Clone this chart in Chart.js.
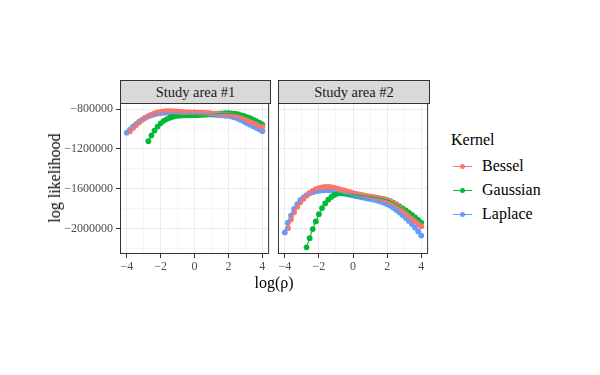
<!DOCTYPE html>
<html>
<head>
<meta charset="utf-8">
<script src="https://cdn.jsdelivr.net/npm/chart.js@4.4.0/dist/chart.umd.min.js"></script>
<style>
  body { margin: 0; width: 600px; height: 375px; background: #fff; position: relative; overflow: hidden; font-family: "Liberation Serif", serif; }
  .panel { position: absolute; top: 90px; height: 186px; }
  .strip { position: absolute; top: 80px; height: 24px; box-sizing: border-box; border: 1px solid #333; background: #d9d9d9; color: #1a1a1a; font-size: 14.5px; line-height: 22px; text-align: center; }
  .ytitle { position: absolute; left: 55px; top: 178px; transform: translate(-50%, -50%) rotate(-90deg); font-size: 16px; white-space: nowrap; color: #000; }
  .xtitle { position: absolute; left: 274px; top: 283px; transform: translate(-50%, -50%); font-size: 16px; color: #000; }
  .legend { position: absolute; left: 451px; top: 130px; color: #000; font-size: 16px; }
  .legend .item { position: absolute; left: 0; width: 120px; height: 20px; }
  .legend .line { position: absolute; left: 2px; top: 9.5px; width: 19px; height: 1.2px; }
  .legend .dot { position: absolute; left: 8.5px; top: 7.5px; width: 5px; height: 5px; border-radius: 50%; }
  .legend .lab { position: absolute; left: 31px; top: 0; line-height: 20px; }
</style>
</head>
<body>
<div class="strip" style="left:120px; width:151px;">Study area #1</div>
<div class="strip" style="left:278px; width:152px;">Study area #2</div>
<div class="panel" style="left:0px; width:272px;"><canvas id="area1" width="272" height="186"></canvas></div>
<div class="panel" style="left:270px; width:161px;"><canvas id="area2" width="161" height="186"></canvas></div>
<div class="ytitle">log likelihood</div>
<div class="xtitle">log(ρ)</div>
<div class="legend" id="legend"><div style="position:absolute; left:0; top:0; line-height:20px; white-space:nowrap;">Kernel</div></div>
<script>
const xs = [-4, -3.818, -3.636, -3.455, -3.273, -3.091, -2.909, -2.727, -2.545, -2.364, -2.182, -2, -1.818, -1.636, -1.455,
  -1.273, -1.091, -0.909, -0.727, -0.545, -0.364, -0.182, 0, 0.182, 0.364, 0.545, 0.727, 0.909, 1.091, 1.273,
  1.455, 1.636, 1.818, 2, 2.182, 2.364, 2.545, 2.727, 2.909, 3.091, 3.273, 3.455, 3.636, 3.818, 4];

const xMajor = [-4, -2, 0, 2, 4];
const xMinor = [-3, -1, 1, 3];
const yMajor = [-800000, -1200000, -1600000, -2000000];
const yMinor = [-1000000, -1400000, -1800000, -2200000];

const kernels = ['Bessel', 'Gaussian', 'Laplace'];
const colors = ['#F8766D', '#00BA38', '#619CFF'];

// Study area #1
const bessel1 = [null, -1021000, -990000, -960000, -933000, -908000, -887000, -870000, -855000, -843000, -834000,
  -827000, -823000, -821000, -820000, -821000, -823000, -825000, -828000, -831000, -832000,
  -833000, -834000, -835000, -836000, -837000, -839000, -842000, -845000, -848000, -850000,
  -853000, -855000, -858000, -862000, -868000, -876000, -886000, -898000, -913000, -926000,
  -940000, -953000, -965000, -977000];
const gaussian1 = [null, null, null, null, null, null, null,
  -1122000, -1065000, -1015000, -975000, -943000, -918000, -900000, -887000, -877000, -870000,
  -866000, -864000, -863000, -862000, -861000, -861000, -860000, -859000, -857000, -855000,
  -852000, -850000, -847000, -845000, -843000, -842000, -842000, -843000, -846000, -852000,
  -860000, -869000, -880000, -892000, -905000, -920000, -936000, -953000];
const laplace1 = [-1037000, -1005000, -976000, -950000, -926000, -905000, -888000, -873000, -861000, -852000,
  -845000, -840000, -837000, -835000, -834000, -834000, -835000, -837000, -839000, -841000,
  -842000, -843000, -844000, -845000, -846000, -848000, -850000, -853000, -856000, -859000,
  -861000, -863000, -866000, -868000, -875000, -884000, -895000, -909000, -925000, -941000,
  -956000, -971000, -987000, -1003000, -1021000];

// Study area #2
const bessel2 = [null, -1994000, -1905000, -1835000, -1780000, -1735000, -1700000, -1668000, -1641000, -1620000, -1604000,
  -1593000, -1585000, -1581000, -1580000, -1583000, -1590000, -1598000, -1607000, -1616000, -1625000,
  -1634000, -1644000, -1650000, -1656000, -1662000, -1668000, -1675000, -1681000, -1687000, -1693000,
  -1699000, -1706000, -1715000, -1727000, -1742000, -1760000, -1786000, -1813000, -1842000, -1870000,
  -1898000, -1925000, -1950000, -1975000];
const gaussian2 = [null, null, null, null, null, null, null,
  -2186000, -2095000, -2003000, -1926000, -1854000, -1793000, -1746000, -1708000, -1681000, -1661000,
  -1647000, -1645000, -1646000, -1649000, -1653000, -1656000, -1660000, -1664000, -1668000, -1672000,
  -1677000, -1681000, -1686000, -1691000, -1697000, -1704000, -1712000, -1723000, -1738000, -1756000,
  -1775000, -1795000, -1815000, -1838000, -1862000, -1887000, -1912000, -1938000];
const laplace2 = [-2037000, -1939000, -1868000, -1800000, -1752000, -1714000, -1685000, -1662000, -1645000, -1633000,
  -1625000, -1620000, -1616000, -1614000, -1614000, -1617000, -1622000, -1629000, -1636000, -1643000,
  -1651000, -1659000, -1666000, -1673000, -1680000, -1686000, -1692000, -1698000, -1704000, -1711000,
  -1719000, -1728000, -1739000, -1753000, -1770000, -1790000, -1812000, -1836000, -1862000, -1891000,
  -1921000, -1953000, -1988000, -2026000, -2068000];

const fontFamily = '"Liberation Serif", serif';
const fmt = v => (v < 0 ? '\u2212' : '') + Math.abs(v);

const panelBorder = {
  id: 'panelBorder',
  afterDraw(chart) {
    const a = chart.chartArea;
    const ctx = chart.ctx;
    ctx.save();
    ctx.strokeStyle = '#333333';
    ctx.lineWidth = 1;
    ctx.strokeRect(a.left + 0.5, a.top + 0.5, a.right - a.left - 1, a.bottom - a.top - 1);
    ctx.restore();
  }
};

function makeDatasets(series) {
  const pts = arr => xs.map((x, i) => ({x: x, y: arr[i]}));
  const sets = [];
  series.forEach((arr, k) => {
    sets.push({
      label: kernels[k], data: pts(arr), showLine: false,
      pointRadius: 2.9, pointHoverRadius: 2.9, pointBorderWidth: 0,
      pointBackgroundColor: colors[k], borderColor: colors[k],
      order: 10 + k
    });
    sets.push({
      label: kernels[k], data: pts(arr), showLine: true,
      pointRadius: 0, borderWidth: 1.1, borderColor: colors[k], tension: 0,
      order: 3 - k
    });
  });
  return sets;
}

function makeChart(id, series, showY) {
  const isMajorX = c => c.tick && xMajor.includes(c.tick.value);
  const isMajorY = c => c.tick && yMajor.includes(c.tick.value);
  return new Chart(id, {
    type: 'scatter',
    data: { datasets: makeDatasets(series) },
    options: {
      responsive: false,
      animation: false,
      devicePixelRatio: 1,
      layout: { padding: { top: 13, right: 1, bottom: 0, left: 0 } },
      plugins: { legend: { display: false }, tooltip: { enabled: false } },
      scales: {
        x: {
          type: 'linear', min: -4.4, max: 4.4,
          afterBuildTicks: s => { s.ticks = xMajor.concat(xMinor).sort((a, b) => a - b).map(v => ({value: v})); },
          afterFit: s => { s.height = 22; },
          border: { display: false },
          grid: {
            color: c => isMajorX(c) ? '#EBEBEB' : '#F2F2F2',
            lineWidth: c => isMajorX(c) ? 1 : 0.7,
            tickLength: 4,
            tickColor: c => isMajorX(c) ? '#333333' : 'rgba(0,0,0,0)'
          },
          ticks: {
            autoSkip: false, maxRotation: 0, padding: 2, color: '#4D4D4D',
            font: { family: fontFamily, size: 12 },
            callback: v => xMajor.includes(v) ? fmt(v) : ''
          }
        },
        y: {
          type: 'linear', min: -2253000, max: -739000,
          afterBuildTicks: s => { s.ticks = yMajor.concat(yMinor).sort((a, b) => a - b).map(v => ({value: v})); },
          afterFit: s => { s.width = showY ? 120 : 8; },
          border: { display: false },
          grid: {
            color: c => isMajorY(c) ? '#EBEBEB' : '#F2F2F2',
            lineWidth: c => isMajorY(c) ? 1 : 0.7,
            drawTicks: showY,
            tickLength: 4,
            tickColor: c => isMajorY(c) ? '#333333' : 'rgba(0,0,0,0)'
          },
          ticks: {
            display: showY, autoSkip: false, padding: 3, color: '#4D4D4D',
            font: { family: fontFamily, size: 12 },
            callback: v => yMajor.includes(v) ? fmt(v) : ''
          }
        }
      }
    },
    plugins: [panelBorder]
  });
}

makeChart('area1', [bessel1, gaussian1, laplace1], true);
makeChart('area2', [bessel2, gaussian2, laplace2], false);

// legend keys
const legend = document.getElementById('legend');
const rowTops = [26, 50, 74];
kernels.forEach((name, k) => {
  const item = document.createElement('div');
  item.className = 'item';
  item.style.top = rowTops[k] + 'px';
  item.innerHTML = '<div class="line" style="background:' + colors[k] + '"></div>' +
    '<div class="dot" style="background:' + colors[k] + '"></div>' +
    '<div class="lab">' + name + '</div>';
  legend.appendChild(item);
});
</script>
</body>
</html>
